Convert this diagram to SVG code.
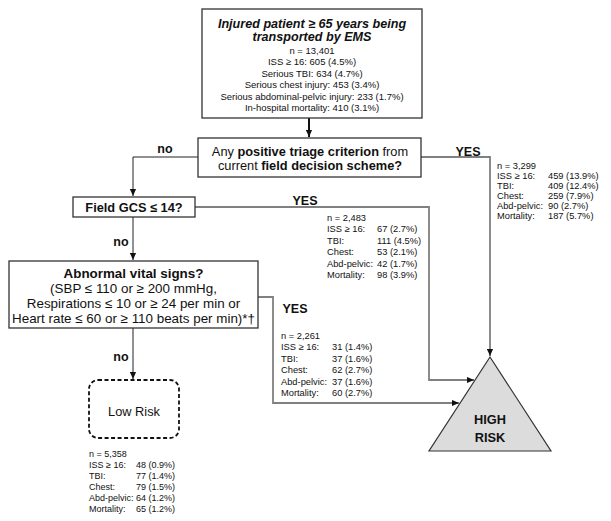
<svg xmlns="http://www.w3.org/2000/svg" width="611" height="521" viewBox="0 0 611 521">
<style>
text{font-family:"Liberation Sans",Arial,sans-serif;fill:#111}
.t{font-size:12.6px;font-weight:bold;font-style:italic;text-anchor:middle}
.s{font-size:9.3px}
.s2{font-size:9px}
.sc{font-size:9.5px;text-anchor:middle}
.q{font-size:12.8px;text-anchor:middle}
.b{font-weight:bold}
.lab{font-size:12.5px;font-weight:bold;text-anchor:middle}
.v{font-size:13.4px;text-anchor:middle}
.box{fill:#fff;stroke:#333;stroke-width:1.3}
.dk{fill:none;stroke:#222;stroke-width:1}
.gr{fill:none;stroke:#808080;stroke-width:1.8}
</style>
<defs>
<marker id="ah" viewBox="0 0 8 8" refX="8" refY="4" markerWidth="7" markerHeight="7" markerUnits="userSpaceOnUse" orient="auto"><path d="M0,0.5 L8,4 L0,7.5 z" fill="#111"/></marker>
</defs>

<g id="connectors">
<line x1="309" y1="118" x2="309" y2="137" stroke="#111" stroke-width="2" marker-end="url(#ah)"/>
<polyline class="dk" points="198,157 133,157 133,196" marker-end="url(#ah)"/>
<line class="dk" x1="133" y1="217" x2="133" y2="260" marker-end="url(#ah)"/>
<line class="dk" x1="133" y1="328" x2="133" y2="379" marker-end="url(#ah)"/>
<polyline class="gr" points="421,157 490,157 490,356" marker-end="url(#ah)"/>
<polyline class="gr" points="195,207 429,207 429,380 474,380" marker-end="url(#ah)"/>
<polyline class="gr" points="258,297 273,297 273,403 459,403" marker-end="url(#ah)"/>
<text class="lab" x="165" y="153">no</text>
<text class="lab" x="468" y="156">YES</text>
<text class="lab" x="305" y="205">YES</text>
<text class="lab" x="121" y="246">no</text>
<text class="lab" x="295" y="313">YES</text>
<text class="lab" x="121" y="361">no</text>
</g>

<g id="start">
<rect class="box" x="202" y="9" width="220" height="109" stroke-width="1.5"/>
<text class="t" x="312" y="28">Injured patient ≥ 65 years being</text>
<text class="t" x="312" y="41">transported by EMS</text>
<text class="sc" x="312" y="53.5">n = 13,401</text>
<text class="sc" x="312" y="65">ISS ≥ 16: 605 (4.5%)</text>
<text class="sc" x="312" y="76.5">Serious TBI: 634 (4.7%)</text>
<text class="sc" x="312" y="88">Serious chest injury: 453 (3.4%)</text>
<text class="sc" x="312" y="99.5">Serious abdominal-pelvic injury: 233 (1.7%)</text>
<text class="sc" x="312" y="111">In-hospital mortality: 410 (3.1%)</text>
</g>

<g id="triage">
<rect class="box" x="198" y="138" width="223" height="39" stroke="#555" stroke-width="1.5"/>
<text class="q" x="310" y="155.5">Any <tspan class="b">positive triage criterion</tspan> from</text>
<text class="q" x="310" y="170">current <tspan class="b">field decision scheme?</tspan></text>
</g>

<g id="gcs">
<rect class="box" x="73" y="197" width="122" height="20"/>
<text class="q b" x="134" y="211.5">Field GCS ≤ 14?</text>
</g>

<g id="vitals">
<rect class="box" x="9" y="261" width="249" height="67" stroke="#444"/>
<text class="v b" x="133.5" y="278">Abnormal vital signs?</text>
<text class="v" x="133.5" y="293">(SBP ≤ 110 or ≥ 200 mmHg,</text>
<text class="v" x="133.5" y="308">Respirations ≤ 10 or ≥ 24 per min or</text>
<text class="v" x="133.5" y="323">Heart rate ≤ 60 or ≥ 110 beats per min)*†</text>
</g>

<g id="lowrisk">
<rect x="89" y="380" width="90" height="58" rx="9" fill="#fff" stroke="#111" stroke-width="1.8" stroke-dasharray="4,2.5"/>
<text class="q" x="134" y="416">Low Risk</text>
</g>

<g id="highrisk">
<polygon points="490,357 429,451 551,451" fill="#dcdcdc" stroke="#333" stroke-width="1.2"/>
<text class="lab" x="490" y="424" style="font-size:12.8px">HIGH</text>
<text class="lab" x="490" y="442" style="font-size:12.8px">RISK</text>
</g>

<g id="stats-yes1" class="s">
<text x="497" y="168.5">n = 3,299</text>
<text x="497" y="178.5">ISS ≥ 16:</text><text x="548" y="178.5">459 (13.9%)</text>
<text x="497" y="188.5">TBI:</text><text x="548" y="188.5">409 (12.4%)</text>
<text x="497" y="198.5">Chest:</text><text x="548" y="198.5">259 (7.9%)</text>
<text x="497" y="208.5">Abd-pelvic:</text><text x="548" y="208.5">90 (2.7%)</text>
<text x="497" y="218.5">Mortality:</text><text x="548" y="218.5">187 (5.7%)</text>
</g>

<g id="stats-yes2" class="s">
<text x="327" y="220.5">n = 2,483</text>
<text x="327" y="232">ISS ≥ 16:</text><text x="377" y="232">67 (2.7%)</text>
<text x="327" y="243.5">TBI:</text><text x="377" y="243.5">111 (4.5%)</text>
<text x="327" y="255">Chest:</text><text x="377" y="255">53 (2.1%)</text>
<text x="327" y="266.5">Abd-pelvic:</text><text x="377" y="266.5">42 (1.7%)</text>
<text x="327" y="278">Mortality:</text><text x="377" y="278">98 (3.9%)</text>
</g>

<g id="stats-yes3" class="s">
<text x="281" y="338.5">n = 2,261</text>
<text x="281" y="350">ISS ≥ 16:</text><text x="332" y="350">31 (1.4%)</text>
<text x="281" y="361.5">TBI:</text><text x="332" y="361.5">37 (1.6%)</text>
<text x="281" y="373">Chest:</text><text x="332" y="373">62 (2.7%)</text>
<text x="281" y="384.5">Abd-pelvic:</text><text x="332" y="384.5">37 (1.6%)</text>
<text x="281" y="396">Mortality:</text><text x="332" y="396">60 (2.7%)</text>
</g>

<g id="stats-low" class="s2">
<text x="89" y="457">n = 5,358</text>
<text x="89" y="468">ISS ≥ 16:</text><text x="136" y="468">48 (0.9%)</text>
<text x="89" y="479">TBI:</text><text x="136" y="479">77 (1.4%)</text>
<text x="89" y="490">Chest:</text><text x="136" y="490">79 (1.5%)</text>
<text x="89" y="501">Abd-pelvic:</text><text x="136" y="501">64 (1.2%)</text>
<text x="89" y="512">Mortality:</text><text x="136" y="512">65 (1.2%)</text>
</g>
</svg>
